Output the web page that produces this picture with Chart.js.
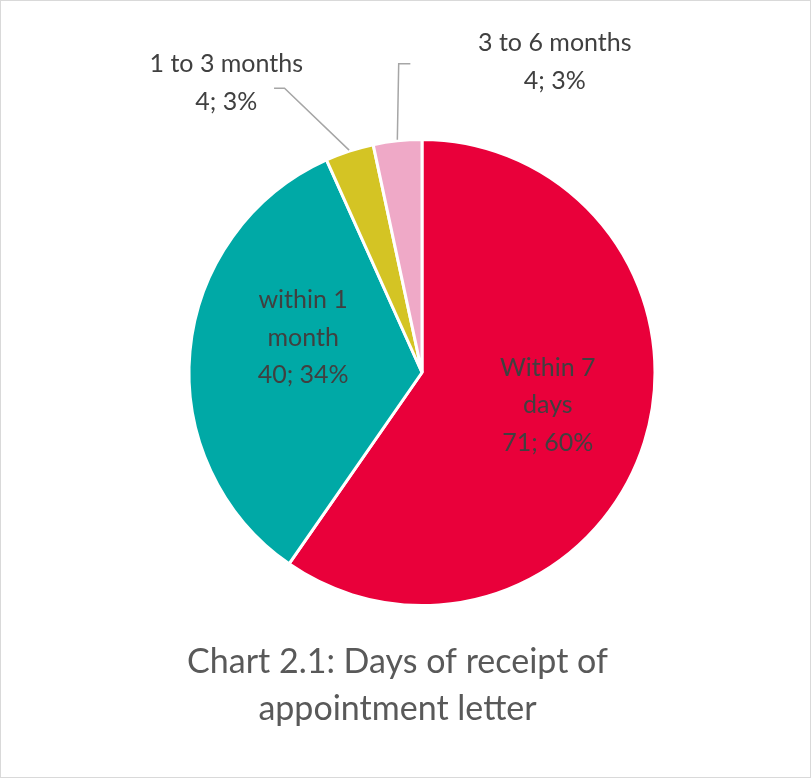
<!DOCTYPE html>
<html>
<head>
<meta charset="utf-8">
<script src="https://cdn.jsdelivr.net/npm/chart.js@4.4.1/dist/chart.umd.min.js"></script>
<style>
  html, body { margin: 0; padding: 0; background: #fff; }
  .frame { width: 811px; height: 778px; box-sizing: border-box; border: 1px solid #d9d9d9; }
  canvas { display: block; }
</style>
</head>
<body>
<div class="frame"><canvas id="pieChart" width="809" height="776"></canvas></div>
<script>
/* data */
const categories = ['Within 7 days', 'within 1 month', '1 to 3 months', '3 to 6 months'];
const counts = [71, 40, 4, 4];
const sliceColors = ['#E9003A', '#00A9A6', '#D4C424', '#EFA9C7'];
const chartTitle = ['Chart 2.1: Days of receipt of', 'appointment letter'];

const labelFont = '25px Lato';
const labelColor = '#404040';

// where each label sits, as fractions of the pie radius from its centre
const placement = [
  { dx: 0.54, dy: 0.14, wrap: 115 },
  { dx: -0.51, dy: -0.15, wrap: 115 },
  { dx: -0.84, dy: -1.243, leader: [[-0.59, -1.22], [-0.635, -1.22]] },
  { dx: 0.57, dy: -1.333, leader: [[-0.10, -1.325], [-0.05, -1.325]] }
];

function wrapText(ctx, text, maxW) {
  if (!maxW) return [text];
  const words = text.split(' ');
  const lines = [];
  let cur = '';
  words.forEach(w => {
    const test = cur ? cur + ' ' + w : w;
    if (cur && ctx.measureText(test).width > maxW) {
      lines.push(cur);
      cur = w;
    } else {
      cur = test;
    }
  });
  if (cur) lines.push(cur);
  return lines;
}

const sliceLabels = {
  id: 'sliceLabels',
  afterDatasetsDraw(chart) {
    const ctx = chart.ctx;
    const meta = chart.getDatasetMeta(0);
    const total = counts.reduce((a, b) => a + b, 0);
    ctx.save();
    ctx.font = labelFont;
    ctx.textAlign = 'center';
    ctx.textBaseline = 'middle';
    meta.data.forEach((arc, i) => {
      const p = placement[i];
      const { x, y, outerRadius, startAngle, endAngle } =
        arc.getProps(['x', 'y', 'outerRadius', 'startAngle', 'endAngle'], true);
      const r = outerRadius;
      if (p.leader) {
        const mid = (startAngle + endAngle) / 2;
        ctx.strokeStyle = '#A6A6A6';
        ctx.lineWidth = 1.5;
        ctx.beginPath();
        ctx.moveTo(x + Math.cos(mid) * (r + 1), y + Math.sin(mid) * (r + 1));
        p.leader.forEach(pt => ctx.lineTo(x + pt[0] * r, y + pt[1] * r));
        ctx.stroke();
      }
      const pct = Math.round(counts[i] / total * 100);
      const lines = wrapText(ctx, categories[i], p.wrap);
      lines.push(counts[i] + '; ' + pct + '%');
      const lh = 37.5;
      const cx = x + p.dx * r;
      const cy = y + p.dy * r - (lines.length - 1) * lh / 2;
      ctx.fillStyle = labelColor;
      lines.forEach((ln, k) => ctx.fillText(ln, cx, cy + k * lh));
    });
    ctx.restore();
  },
  // title under the pie, centred on the frame rather than on the pie
  afterDraw(chart) {
    const ctx = chart.ctx;
    ctx.save();
    ctx.font = '34px Lato';
    ctx.fillStyle = '#595959';
    ctx.textAlign = 'center';
    ctx.textBaseline = 'middle';
    const top = chart.chartArea.bottom + 55;
    chartTitle.forEach((ln, k) => ctx.fillText(ln, chart.width / 2 - 8, top + k * 47));
    ctx.restore();
  }
};

const ctx = document.getElementById('pieChart').getContext('2d');
const pieChart = new Chart(ctx, {
  type: 'pie',
  data: {
    labels: categories,
    datasets: [{
      data: counts,
      backgroundColor: sliceColors,
      borderColor: '#ffffff',
      borderWidth: 3
    }]
  },
  options: {
    responsive: false,
    animation: false,
    layout: { padding: { top: 137, left: 33, right: 0, bottom: 170 } },
    plugins: {
      legend: { display: false },
      tooltip: { enabled: false },
      title: { display: false }
    }
  },
  plugins: [sliceLabels]
});
</script>
</body>
</html>
